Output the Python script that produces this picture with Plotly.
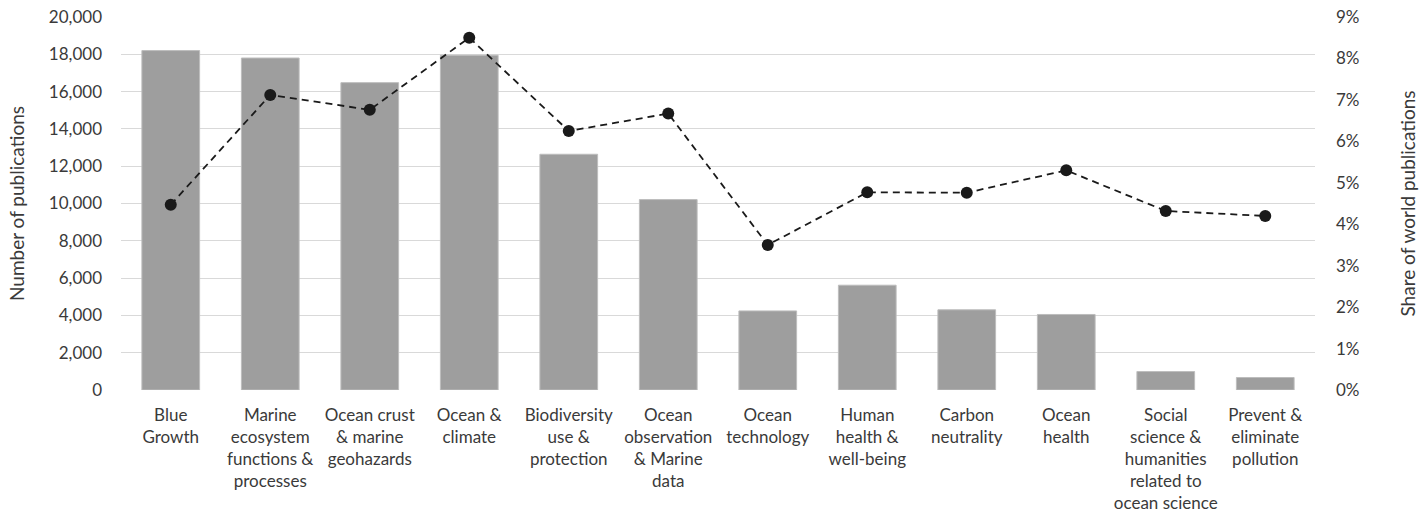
import plotly.graph_objects as go

categories = [
    "Blue<br>Growth",
    "Marine<br>ecosystem<br>functions &<br>processes",
    "Ocean crust<br>& marine<br>geohazards",
    "Ocean &<br>climate",
    "Biodiversity<br>use &<br>protection",
    "Ocean<br>observation<br>& Marine<br>data",
    "Ocean<br>technology",
    "Human<br>health &<br>well-being",
    "Carbon<br>neutrality",
    "Ocean<br>health",
    "Social<br>science &<br>humanities<br>related to<br>ocean science",
    "Prevent &<br>eliminate<br>pollution",
]
publications = [18200, 17800, 16480, 17950, 12640, 10210, 4240, 5620, 4300, 4050, 990, 670]
share_pct = [4.47, 7.12, 6.76, 8.50, 6.25, 6.67, 3.50, 4.77, 4.76, 5.30, 4.32, 4.20]

left_ticks = list(range(0, 20001, 2000))
right_ticks = list(range(0, 10))
right_labels = [f"{v}%" for v in right_ticks]

FONT = "Lato"
TXT = "#3a3a3a"

fig = go.Figure()
fig.add_trace(go.Bar(
    x=categories, y=publications, name="Number of publications",
    marker=dict(color="#9e9e9e", line=dict(color="#bdbdbd", width=1)),
    yaxis="y",
))
fig.add_trace(go.Scatter(
    x=categories, y=share_pct, name="Share of world publications",
    mode="lines+markers",
    line=dict(color="#1a1a1a", width=1.8, dash="7px,5px"),
    marker=dict(color="#1a1a1a", size=12),
    yaxis="y2",
))

fig.update_layout(
    width=1428, height=525,
    margin=dict(l=121, r=113, t=17, b=135),
    paper_bgcolor="white", plot_bgcolor="white",
    showlegend=False,
    bargap=0.42,
    font=dict(family=FONT, size=17, color=TXT),
    xaxis=dict(
        range=[-0.5, len(categories) - 0.5],
        showgrid=False, showline=False, zeroline=False,
        tickfont=dict(family=FONT, size=17, color=TXT),
        ticks="", tickangle=0, automargin=False,
        ticklabelstandoff=13,
    ),
    yaxis=dict(
        range=[0, 20000], tickvals=left_ticks,
        tickformat=",d",
        showgrid=True, gridcolor="#d9d9d9", gridwidth=1,
        zeroline=False, showline=False, ticks="",
        ticklabelstandoff=18, automargin=False,
        tickfont=dict(family=FONT, size=17, color=TXT),
        title=dict(text="Number of publications", font=dict(family=FONT, size=19, color=TXT), standoff=19),
    ),
    yaxis2=dict(
        range=[0, 9], tickvals=right_ticks, ticktext=right_labels,
        overlaying="y", side="right",
        showgrid=False, zeroline=False, showline=False, ticks="",
        ticklabelstandoff=20, automargin=False,
        tickfont=dict(family=FONT, size=17, color=TXT),
        title=dict(text="Share of world publications", font=dict(family=FONT, size=19, color=TXT), standoff=43),
    ),
)

fig.write_html(
    "out.html",
    config={"displayModeBar": False},
    post_script="document.body.style.margin='0';document.body.style.overflow='hidden';",
)
